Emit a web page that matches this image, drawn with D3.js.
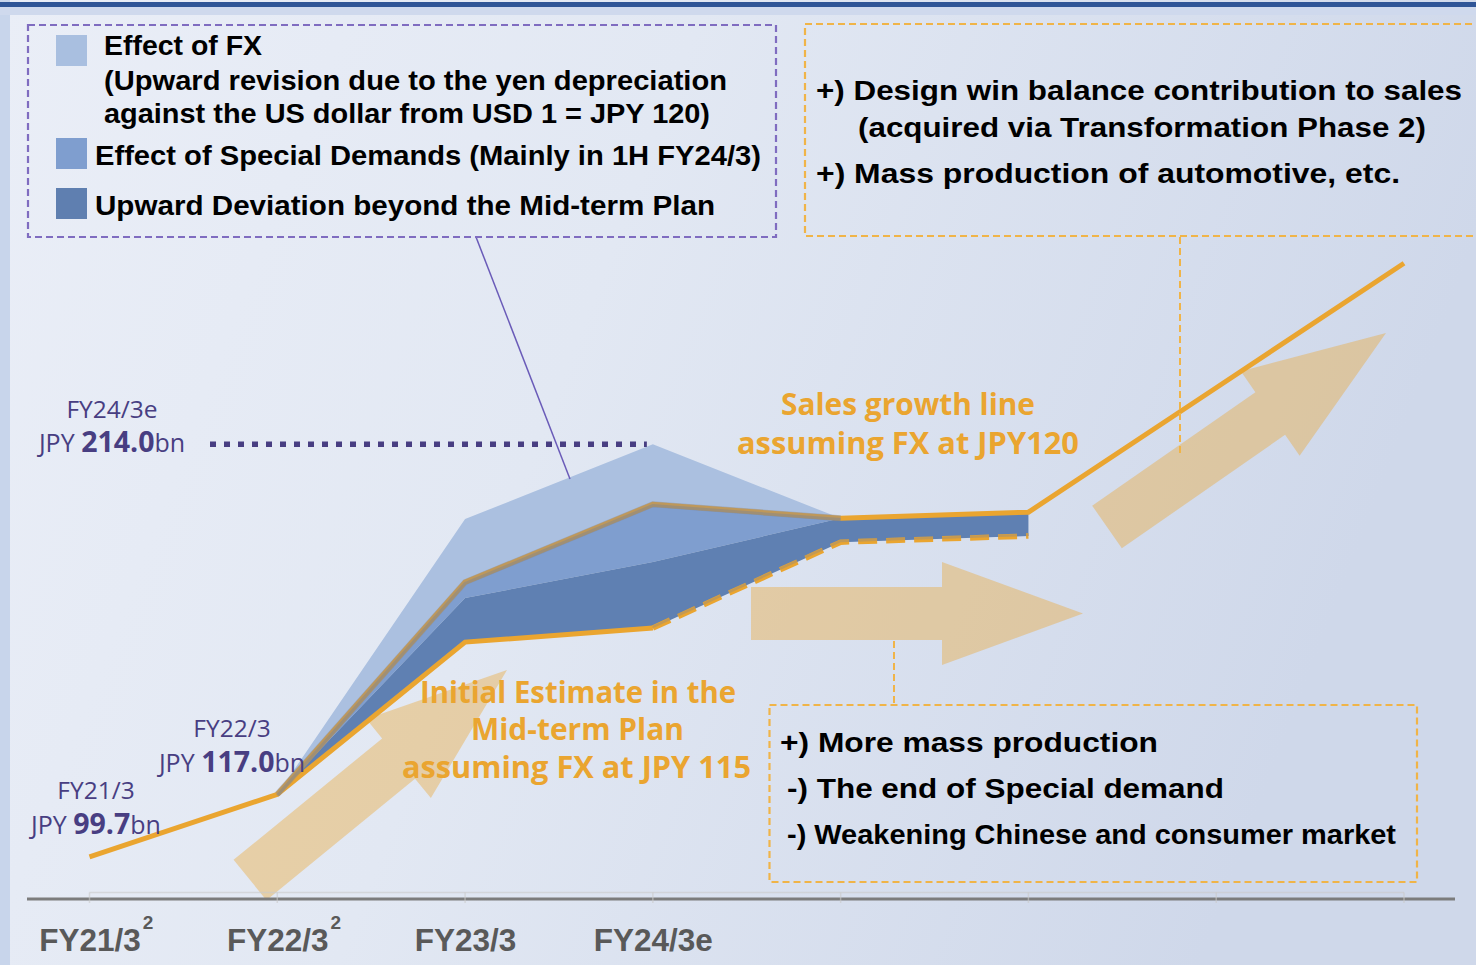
<!DOCTYPE html>
<html><head><meta charset="utf-8">
<script src="https://cdn.jsdelivr.net/npm/d3@7"></script>
<style>html,body{margin:0;padding:0;overflow:hidden;background:#e6ebf5}</style>
</head><body><svg id="c" width="1476" height="965"></svg>
<script>
// ---------- data ----------
const categories = ["FY21/3","FY22/3","FY23/3","FY24/3e","FY25/3","FY26/3","FY27/3","FY28/3"];
const tickLabels = ["FY21/3","FY22/3","FY23/3","FY24/3e","","","",""];
const tickSup    = ["2","2","","","","","",""];
// Sales growth line assuming FX at JPY120 (JPY bn)
const salesGrowthFX120 = [99.7,117.0,175.8,197.4,193.5,195.2,229.7,264.2];
// Top of "Effect of FX" band
const fxEffectTop = [null,117.0,193.3,214.0,193.5,null,null,null];
// Boundary between Special Demands and Upward Deviation bands
const specialDemandBase = [null,117.0,171.4,181.4,193.5,195.2,null,null];
// Initial estimate in Mid-term plan, FX at JPY115
const midTermPlanFX115 = [null,117.0,159.2,163.1,186.9,188.6,null,null];
const planSolidIdx = [1,2,3];
const planDashIdx = [3,4,5];
const valueLabelCats = ["FY21/3","FY22/3","FY24/3e"];
const valueLabelVals = [99.7,117.0,214.0];
const legendItems = [
  ["Effect of FX","(Upward revision due to the yen depreciation","against the US dollar from USD 1 = JPY 120)"],
  ["Effect of Special Demands (Mainly in 1H FY24/3)"],
  ["Upward Deviation beyond the Mid-term Plan"]
];
const rightBoxLines = ["+) Design win balance contribution to sales","(acquired via Transformation Phase 2)","+) Mass production of automotive, etc."];
const bottomBoxLines = ["+) More mass production","-) The end of Special demand","-) Weakening Chinese and consumer market"];
const salesLabel = ["Sales growth line","assuming FX at JPY120"];
const planLabel = ["Initial Estimate in the","Mid-term Plan","assuming FX at JPY 115"];

// ---------- setup ----------
const W = 1476, H = 965;
const ORANGE = "#eaa530", PURPLE = "#483e82";
const svg = d3.select("#c");
const defs = svg.append("defs");
const gr = defs.append("linearGradient").attr("id","bg").attr("x1","0").attr("y1","0").attr("x2","1").attr("y2","0.25");
gr.append("stop").attr("offset","0").attr("stop-color","#eaeef7");
gr.append("stop").attr("offset","0.45").attr("stop-color","#e2e8f3");
gr.append("stop").attr("offset","1").attr("stop-color","#cfd8ea");
svg.append("rect").attr("width",W).attr("height",H).attr("fill","url(#bg)");
svg.append("rect").attr("x",0).attr("y",0).attr("width",10).attr("height",H).attr("fill","#c8d5eb");
svg.append("rect").attr("x",0).attr("y",6).attr("width",W).attr("height",9).attr("fill","#cfd9ed");
svg.append("rect").attr("x",0).attr("y",2).attr("width",W).attr("height",5).attr("fill","#2f5597");

const x = d3.scalePoint().domain(categories).range([89.5, 1404]);
const y = d3.scaleLinear().domain([88, 333]).range([899, 15]);
const X = i => x(categories[i]);

// ---------- decorative arrows ----------
function arrowPts(tx,ty,px,py,sw,hw,hl){
  const L = Math.hypot(px-tx,py-ty), ux=(px-tx)/L, uy=(py-ty)/L, nx=-uy, ny=ux;
  const bx = px-ux*hl, by = py-uy*hl;
  return [[tx+nx*sw/2,ty+ny*sw/2],[bx+nx*sw/2,by+ny*sw/2],[bx+nx*hw/2,by+ny*hw/2],[px,py],
          [bx-nx*hw/2,by-ny*hw/2],[bx-nx*sw/2,by-ny*sw/2],[tx-nx*sw/2,ty-ny*sw/2]];
}
const arrows = [
  [250,880,507,670,52,102,140],
  [751,613.5,1083,613.5,53,103,141],
  [1107,527,1386,333,52,103,141]
];
arrows.forEach(a=>{
  svg.append("path").attr("d", d3.line()(arrowPts(...a))+"Z").attr("fill","#eba834").attr("opacity",0.4);
});

// ---------- axis ----------
svg.append("line").attr("x1",27).attr("x2",1455).attr("y1",y(88)).attr("y2",y(88)).attr("stroke","#7c7c7c").attr("stroke-width",3);
const br = svg.append("g").attr("stroke","#c9c9c9").attr("stroke-opacity",0.6).attr("stroke-width",1.5);
br.append("line").attr("x1",x.range()[0]).attr("x2",x.range()[1]).attr("y1",892.5).attr("y2",892.5);
categories.forEach((c,i)=>br.append("line").attr("x1",X(i)).attr("x2",X(i)).attr("y1",892.5).attr("y2",903));
const ax = svg.append("g").attr("transform",`translate(0,${y(88)})`)
  .call(d3.axisBottom(x).tickSize(0).tickFormat((d,i)=>tickLabels[i]));
ax.select(".domain").remove();
ax.selectAll("text").attr("y",52).attr("dy",null)
  .attr("font-family","'Liberation Sans', Arial, sans-serif").attr("font-size",31.5).attr("font-weight",700).attr("fill","#595959");
ax.selectAll(".tick").each(function(d,i){
  if(!tickSup[i]) return;
  const t = d3.select(this).select("text");
  const w = t.node().getComputedTextLength();
  t.attr("text-anchor","start").attr("x",-w/2);
  t.append("tspan").attr("dx",2).attr("dy",-22).attr("font-size",19).text(tickSup[i]);
});

// ---------- areas ----------
const idx = d3.range(categories.length);
function band(lo,hi){
  return d3.area().defined(i=>lo[i]!=null&&hi[i]!=null).x(X).y0(i=>y(lo[i])).y1(i=>y(hi[i]))(idx);
}
svg.append("path").attr("d",band(salesGrowthFX120,fxEffectTop)).attr("fill","#abc0e0");
svg.append("path").attr("d",band(specialDemandBase,salesGrowthFX120)).attr("fill","#7f9ecf");
svg.append("path").attr("d",band(midTermPlanFX115,specialDemandBase)).attr("fill","#5f80b2");

// ---------- lines ----------
const lineOf = (arr, sub) => d3.line().x(X).y(i=>y(arr[i]))(sub);
// mid-term plan line
svg.append("path").attr("d",lineOf(midTermPlanFX115,planSolidIdx)).attr("fill","none").attr("stroke",ORANGE).attr("stroke-width",5);
svg.append("path").attr("d",lineOf(midTermPlanFX115,planDashIdx)).attr("fill","none").attr("stroke",ORANGE).attr("stroke-width",5.5).attr("stroke-dasharray","19,9");
svg.append("path").attr("d",lineOf(midTermPlanFX115,planDashIdx)).attr("fill","none").attr("stroke","#7d8592").attr("stroke-opacity",0.35).attr("stroke-width",2.5).attr("stroke-dasharray","19,9").attr("transform","translate(0,-1.2)");
// sales growth line
svg.append("path").attr("d",lineOf(salesGrowthFX120,idx)).attr("fill","none").attr("stroke",ORANGE).attr("stroke-width",5);
const seg = [1,2,3,4];
svg.append("path").attr("d",lineOf(salesGrowthFX120,seg)).attr("fill","none").attr("stroke","#8a8a90").attr("stroke-opacity",0.45).attr("stroke-width",6);
svg.append("path").attr("d",lineOf(salesGrowthFX120,seg)).attr("fill","none").attr("stroke","#7d8592").attr("stroke-opacity",0.45).attr("stroke-width",3).attr("transform","translate(0,1.2)");

// dotted line to FY24/3e peak
const peakI = categories.indexOf("FY24/3e");
svg.append("line").attr("x1",210).attr("x2",X(peakI)-6).attr("y1",y(fxEffectTop[peakI])).attr("y2",y(fxEffectTop[peakI]))
  .attr("stroke",PURPLE).attr("stroke-width",5.5).attr("stroke-dasharray","6,8");

// ---------- connectors & boxes ----------
svg.append("line").attr("x1",476).attr("y1",237).attr("x2",570).attr("y2",479).attr("stroke","#6a5bb8").attr("stroke-width",1.5);
svg.append("line").attr("x1",1180).attr("y1",237).attr("x2",1180).attr("y2",453).attr("stroke","#f0b448").attr("stroke-width",2).attr("stroke-dasharray","7,4");
svg.append("line").attr("x1",894).attr("y1",641).attr("x2",894).attr("y2",705).attr("stroke","#f0b448").attr("stroke-width",2).attr("stroke-dasharray","7,4");
svg.append("rect").attr("x",28).attr("y",25).attr("width",748).attr("height",212).attr("fill","none").attr("stroke","#7f6cc0").attr("stroke-width",2.2).attr("stroke-dasharray","7,4");
svg.append("rect").attr("x",805).attr("y",24).attr("width",690).attr("height",212).attr("fill","none").attr("stroke","#f0b448").attr("stroke-width",2.2).attr("stroke-dasharray","7,4");
svg.append("rect").attr("x",769.5).attr("y",705).attr("width",647.5).attr("height",177).attr("fill","none").attr("stroke","#f0b448").attr("stroke-width",2.2).attr("stroke-dasharray","7,4");

// ---------- text helper ----------
function txt(s, xx, yy, o){
  const t = svg.append("text").attr("x",xx).attr("y",yy).text(s)
    .attr("font-family",o.ff||"'Liberation Sans', Arial, sans-serif")
    .attr("font-size",o.fs).attr("font-weight",o.fw||400).attr("fill",o.fill||"#000")
    .attr("text-anchor",o.anchor||"start");
  if(o.len) t.attr("textLength",o.len).attr("lengthAdjust","spacingAndGlyphs");
  return t;
}
const B = {fs:27.5, fw:700};

// legend
const swatchCols = ["#a9bfe0","#7f9ecf","#5f7fb0"];
const swatchY = [35,138,188];
swatchCols.forEach((c,i)=>svg.append("rect").attr("x",56).attr("y",swatchY[i]).attr("width",31).attr("height",31).attr("fill",c));
txt(legendItems[0][0],104,55,{...B,len:158});
txt(legendItems[0][1],104,90,{...B,len:623});
txt(legendItems[0][2],104,123,{...B,len:606});
txt(legendItems[1][0],95,165,{...B,len:666});
txt(legendItems[2][0],95,215,{...B,len:620});

// right box
txt(rightBoxLines[0],816,100,{...B,len:646});
txt(rightBoxLines[1],858,137,{...B,len:568});
txt(rightBoxLines[2],816,183,{...B,len:584});
// bottom box
txt(bottomBoxLines[0],780,752,{...B,len:378});
txt(bottomBoxLines[1],787,798,{...B,len:437});
txt(bottomBoxLines[2],787,844,{...B,len:609});

// orange labels
const OL = {ff:"'Open Sans', sans-serif", fw:700, fill:ORANGE, anchor:"middle"};
txt(salesLabel[0],908,415,{...OL,fs:31,len:254});
txt(salesLabel[1],908,454,{...OL,fs:31,len:342});
txt(planLabel[0],578,703,{...OL,fs:30,len:316});
txt(planLabel[1],577.5,740,{...OL,fs:30,len:213});
txt(planLabel[2],576.5,778,{...OL,fs:30,len:349});

// value labels
const labelPos = [[96,799,834],[232,737,772],[112,418,452]];
valueLabelCats.forEach((c,i)=>{
  const [cx,y1,y2] = labelPos[i];
  txt(c,cx,y1,{ff:"'Open Sans', sans-serif",fs:24.5,fill:PURPLE,anchor:"middle"});
  const t = svg.append("text").attr("x",cx).attr("y",y2).attr("text-anchor","middle")
    .attr("font-family","'Open Sans', sans-serif").attr("fill",PURPLE).attr("font-size",25);
  t.append("tspan").text("JPY ");
  t.append("tspan").attr("font-weight",700).attr("font-size",28.5).text(valueLabelVals[i].toFixed(1));
  t.append("tspan").text("bn");
});
</script></body></html>
